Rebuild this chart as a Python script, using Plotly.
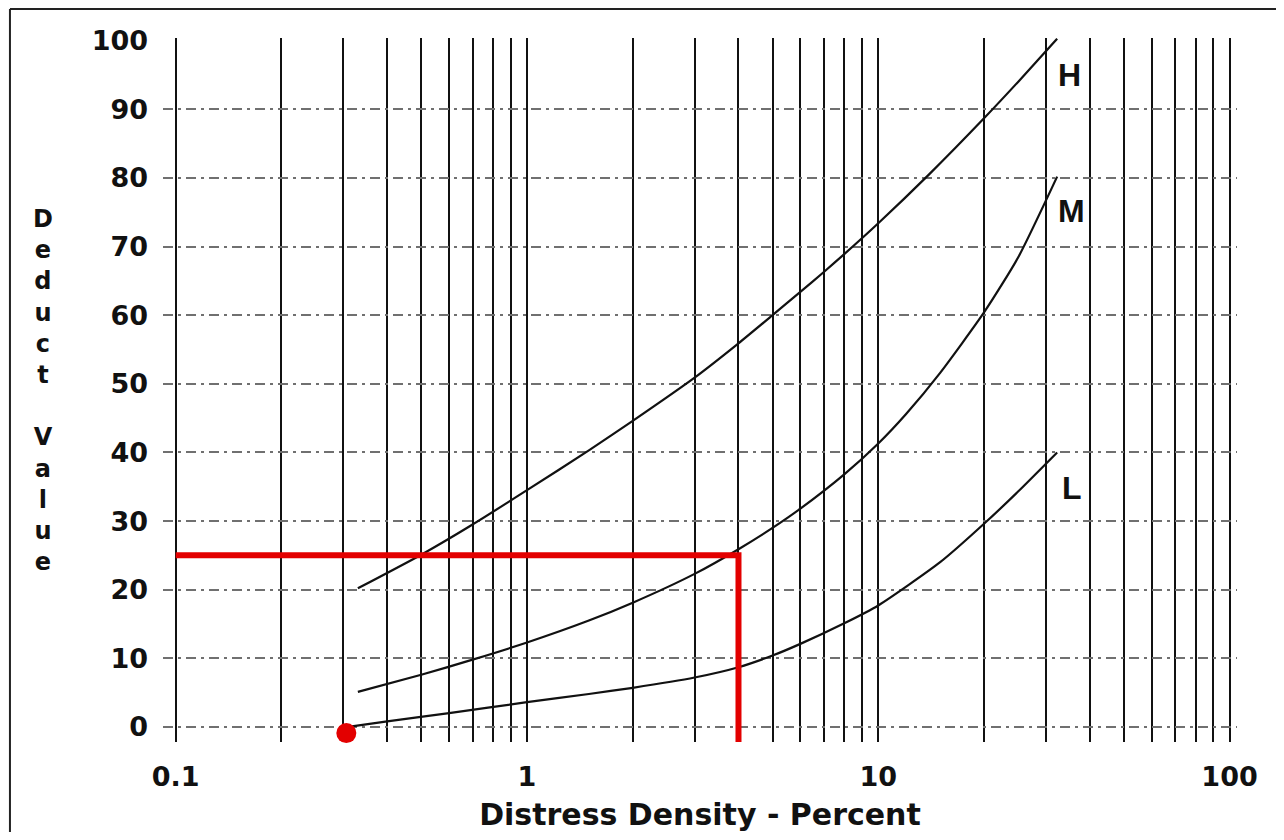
import numpy as np
import plotly.graph_objects as go

# ---------------- data ----------------
h_x = [0.33, 0.5, 0.7, 1, 1.5, 2, 3, 4, 5, 6, 7, 8, 10, 14, 20, 25, 32.3]
h_y = [20.2, 25.1, 29.5, 34.5, 40.3, 44.6, 50.9, 55.9, 60.0, 63.4, 66.3, 68.9, 73.4, 80.6, 88.7, 94.0, 100.3]

m_x = [0.33, 0.5, 0.7, 1, 1.5, 2, 3, 4, 5, 6, 8, 10, 12, 15, 20, 25, 32.3]
m_y = [5.1, 7.6, 9.8, 12.3, 15.5, 18.1, 22.3, 25.9, 29.0, 31.8, 36.8, 41.3, 45.6, 51.6, 60.4, 68.4, 80.2]

l_x = [0.31, 0.4, 0.6, 1, 1.5, 2, 3, 4, 5, 6, 8, 10, 15, 20, 25, 32.3]
l_y = [0.0, 0.8, 2.0, 3.6, 4.8, 5.7, 7.2, 8.7, 10.4, 12.1, 15.1, 17.7, 24.0, 29.6, 34.3, 40.0]

curve_labels = ["H", "M", "L"]
label_x = [35.0, 35.4, 35.7]
label_y = [95.0, 75.2, 34.8]

red_x = [0.1, 4, 4]
red_y = [25, 25, -2.2]
dot_x = [0.306]
dot_y = [-0.9]

x_major = [0.1, 1, 10, 100]
x_major_text = ["0.1", "1", "10", "100"]
x_minor = [0.2, 0.3, 0.4, 0.5, 0.6, 0.7, 0.8, 0.9,
           2, 3, 4, 5, 6, 7, 8, 9,
           20, 30, 40, 50, 60, 70, 80, 90]
y_ticks = [0, 10, 20, 30, 40, 50, 60, 70, 80, 90, 100]
y_grid = [0, 10, 20, 30, 40, 50, 60, 70, 80, 90]

x_title = "Distress Density - Percent"
y_title = "Deduct Value"

# ---------------- figure ----------------
FONT = "DejaVu Sans"
INK = "#111111"

fig = go.Figure()
for xs, ys in [(h_x, h_y), (m_x, m_y), (l_x, l_y)]:
    fig.add_trace(go.Scatter(x=xs, y=ys, mode="lines",
                             line=dict(color=INK, width=2.2, shape="spline", smoothing=0.6),
                             showlegend=False, hoverinfo="skip"))

fig.add_trace(go.Scatter(x=red_x, y=red_y, mode="lines",
                         line=dict(color="#e30000", width=6),
                         showlegend=False, hoverinfo="skip"))
fig.add_trace(go.Scatter(x=dot_x, y=dot_y, mode="markers", yaxis="y2",
                         marker=dict(color="#e30000", size=20),
                         cliponaxis=False, showlegend=False, hoverinfo="skip"))

for t, lx, ly in zip(curve_labels, label_x, label_y):
    fig.add_annotation(x=np.log10(lx), y=ly, text=t, showarrow=False,
                       xanchor="center", yanchor="middle",
                       font=dict(family="Liberation Sans", size=32, color=INK, weight="bold"))

# vertical stacked y title
w1, w2 = y_title.split(" ")
fig.add_annotation(xref="paper", yref="paper", x=-0.1117, y=0.5,
                   text="<br>".join(list(w1) + [""] + list(w2)),
                   showarrow=False, xanchor="center", yanchor="middle",
                   font=dict(family=FONT, size=24, color=INK, weight="bold"))

xr = [np.log10(0.092), np.log10(105)]
yr = [-2.2, 100.4]
tickfont = dict(family=FONT, size=27, color=INK, weight="bold")

fig.update_layout(
    width=1268, height=824, autosize=False,
    margin=dict(l=155, r=39, t=30, b=90, pad=0),
    paper_bgcolor="white", plot_bgcolor="white",
    xaxis=dict(type="log", range=xr, tickmode="array", tickvals=x_major, ticktext=x_major_text,
               showgrid=True, gridcolor=INK, gridwidth=2.4, automargin=False,
               minor=dict(tickmode="array", tickvals=x_minor, showgrid=True, gridcolor=INK, gridwidth=2.4, ticks=""),
               zeroline=False, showline=False, ticks="", ticklabelstandoff=16,
               tickfont=tickfont,
               title=dict(text=x_title, standoff=12,
                          font=dict(family=FONT, size=30, color=INK, weight="bold"))),
    yaxis=dict(range=yr, tickmode="array", tickvals=y_ticks, showgrid=False, zeroline=False,
               automargin=False, showline=False, ticks="", ticklabelstandoff=14, tickfont=tickfont),
    yaxis2=dict(range=yr, overlaying="y", tickmode="array", tickvals=y_grid, showgrid=True,
                gridcolor="#707070", gridwidth=2, griddash="10px,5px,3px,5px", automargin=False,
                showticklabels=False, zeroline=False, showline=False, ticks=""),
    shapes=[
        dict(type="line", xref="paper", yref="paper", x0=-0.1425, x1=1.05, y0=1.0412, y1=1.0412,
             line=dict(color="#222", width=2)),
        dict(type="line", xref="paper", yref="paper", x0=-0.1425, x1=-0.1425, y0=-0.2, y1=1.0412,
             line=dict(color="#222", width=2)),
    ],
)

fig.write_html("out.html")
